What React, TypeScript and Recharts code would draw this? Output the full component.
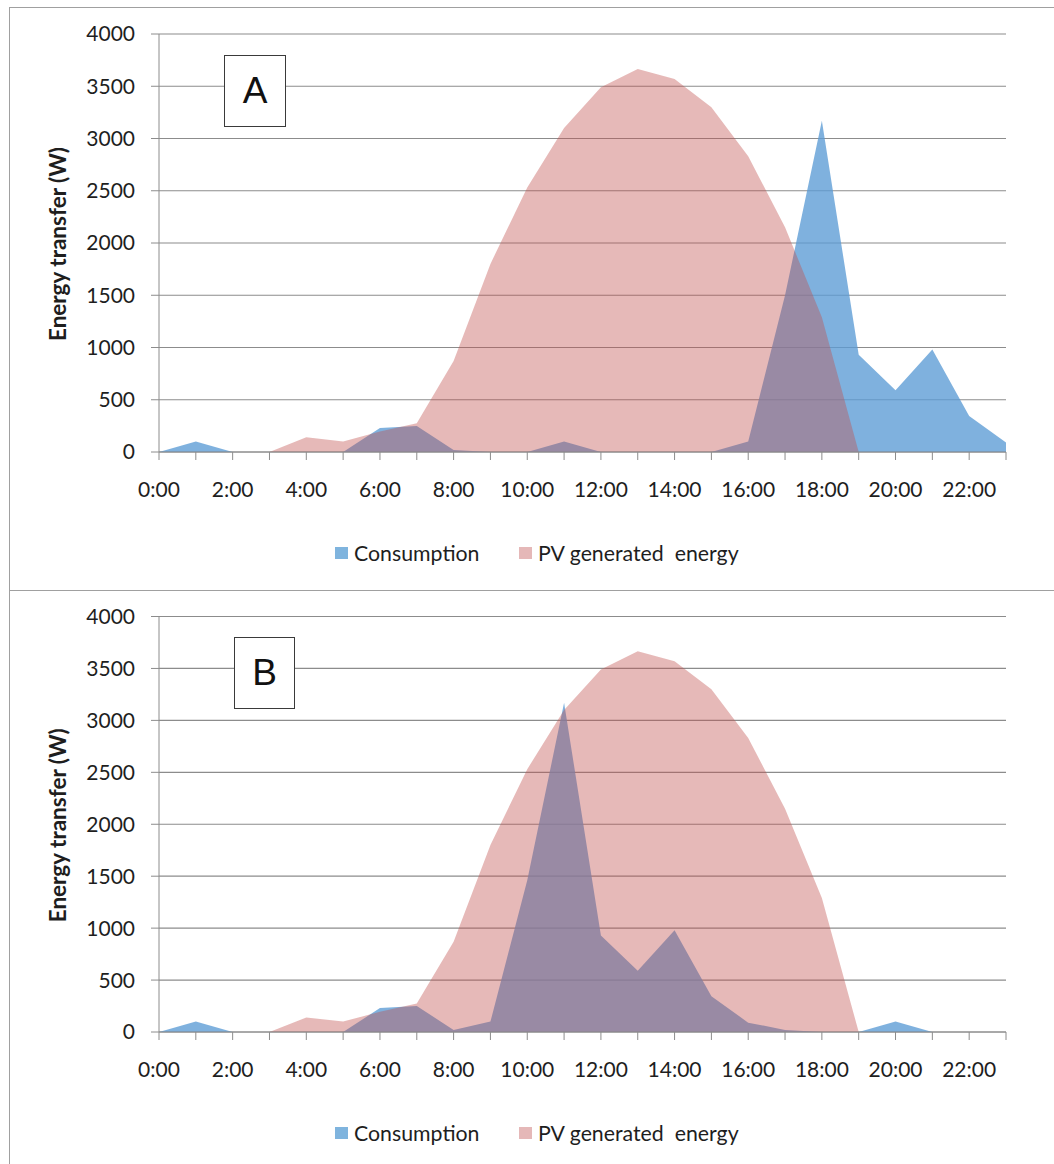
import { AreaChart, Area, XAxis, YAxis, CartesianGrid, Legend } from 'recharts';

const hours = [
  '0:00', '1:00', '2:00', '3:00', '4:00', '5:00', '6:00', '7:00', '8:00', '9:00', '10:00', '11:00',
  '12:00', '13:00', '14:00', '15:00', '16:00', '17:00', '18:00', '19:00', '20:00', '21:00', '22:00', '23:00',
];

// W per hour
const consumptionA = [0, 100, 0, 0, 0, 0, 230, 250, 20, 0, 0, 100, 0, 0, 0, 0, 100, 1500, 3170, 930, 590, 980, 345, 90];
const consumptionB = [0, 100, 0, 0, 0, 0, 230, 250, 20, 100, 1460, 3170, 930, 590, 980, 345, 90, 20, 0, 0, 100, 0, 0, 0];
const pvGenerated = [0, 0, 0, 0, 140, 100, 195, 275, 870, 1800, 2530, 3100, 3490, 3665, 3570, 3300, 2830, 2150, 1290, 0, 0, 0, 0, 0];

const yTicks = [0, 500, 1000, 1500, 2000, 2500, 3000, 3500, 4000];

const FONT = 'Lato, "Open Sans", sans-serif';
const GRID = '#8c8c8c';
const TEXT = '#1e1e1e';

const buildRows = (consumption: number[]) =>
  hours.map((h, i) => ({ hour: h, consumption: consumption[i], pv: pvGenerated[i] }));

const renderLegend = () => (
  <div style={{ position: 'relative', height: 24, fontFamily: FONT, fontSize: 21.3, color: TEXT }}>
    <div style={{ position: 'absolute', left: 0, top: 6, width: 13, height: 12, background: '#7fb4de' }} />
    <div style={{ position: 'absolute', left: 19, top: 0, lineHeight: '24px', whiteSpace: 'nowrap' }}>Consumption</div>
    <div style={{ position: 'absolute', left: 184, top: 6, width: 13, height: 12, background: '#e5b8b8' }} />
    <div style={{ position: 'absolute', left: 203, top: 0, lineHeight: '24px', whiteSpace: 'pre' }}>PV generated  energy</div>
  </div>
);

const yLabel = ({ viewBox }: any) => {
  const cx = 57;
  const cy = viewBox.y + viewBox.height / 2 + 1;
  return (
    <text
      x={cx}
      y={cy}
      transform={`rotate(-90 ${cx} ${cy})`}
      textAnchor="middle"
      dominantBaseline="central"
      fontFamily={FONT}
      fontWeight="bold"
      fontSize={22.5}
      fill={TEXT}
    >
      Energy transfer (W)
    </text>
  );
};

interface PanelProps {
  consumption: number[];
  top: number;
  height: number;
  marginTop: number;
  marginBottom: number;
}

const Panel = ({ consumption, top, height, marginTop, marginBottom }: PanelProps) => (
  <div style={{ position: 'absolute', left: 0, top }}>
    <AreaChart
      width={1054}
      height={height}
      data={buildRows(consumption)}
      margin={{ top: marginTop, right: 48, bottom: marginBottom, left: 99 }}
    >
      <CartesianGrid vertical={false} stroke={GRID} strokeWidth={1.2} />
      <XAxis
        dataKey="hour"
        height={30}
        interval={0}
        tickFormatter={(v: string, i: number) => (i % 2 === 0 ? v : '')}
        stroke={GRID}
        tickSize={8}
        tickMargin={22}
        tick={{ fill: TEXT, fontSize: 21, fontFamily: FONT }}
      />
      <YAxis
        width={60}
        domain={[0, 4000]}
        ticks={yTicks}
        interval={0}
        stroke={GRID}
        tickSize={8}
        tickMargin={16}
        tick={{ fill: TEXT, fontSize: 21, fontFamily: FONT }}
        label={{ content: yLabel }}
      />
      <Area
        type="linear"
        dataKey="consumption"
        name="Consumption"
        stroke="none"
        fill="#5b9bd5"
        fillOpacity={0.78}
        isAnimationActive={false}
      />
      <Area
        type="linear"
        dataKey="pv"
        name="PV generated energy"
        stroke="none"
        fill="#c0504d"
        fillOpacity={0.4}
        isAnimationActive={false}
      />
      <Legend
        layout="horizontal"
        verticalAlign="middle"
        align="center"
        content={renderLegend}
        wrapperStyle={{ top: 541, left: 335, width: 440, height: 24 }}
      />
    </AreaChart>
  </div>
);

const tagBox = (left: number, top: number, width: number, letter: string) => (
  <div
    style={{
      position: 'absolute',
      left,
      top,
      width,
      height: 72,
      boxSizing: 'border-box',
      border: '1.5px solid #3a3a3a',
      background: '#fff',
      fontFamily: '"Liberation Sans", Arial, sans-serif',
      fontSize: 37,
      color: '#111',
      display: 'flex',
      alignItems: 'center',
      justifyContent: 'center',
    }}
  >
    {letter}
  </div>
);

export default function App() {
  return (
    <div style={{ position: 'absolute', left: 0, top: 0, width: 1054, height: 1164, overflow: 'hidden', background: '#fff' }}>
      <div style={{ position: 'absolute', left: 9, top: 7, width: 1100, height: 584, boxSizing: 'border-box', border: '1.5px solid #a0a0a0' }} />
      <div style={{ position: 'absolute', left: 9, top: 590, width: 1100, height: 700, boxSizing: 'border-box', border: '1.5px solid #a0a0a0' }} />
      <Panel consumption={consumptionA} top={0} height={590} marginTop={34} marginBottom={108} />
      <Panel consumption={consumptionB} top={580} height={584} marginTop={36.5} marginBottom={102} />
      {tagBox(224, 55, 62, 'A')}
      {tagBox(234, 637, 61, 'B')}
    </div>
  );
}
